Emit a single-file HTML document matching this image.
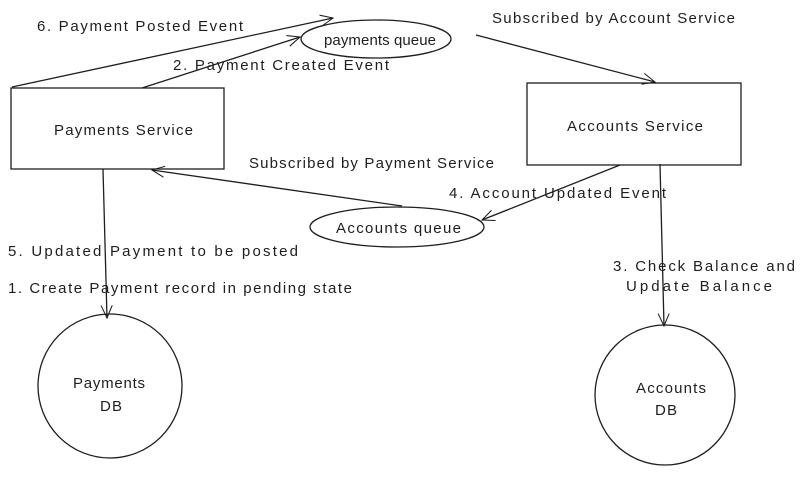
<!DOCTYPE html>
<html><head><meta charset="utf-8"><style>
html,body{margin:0;padding:0;background:#fff;}
svg{display:block;}
text{font-family:"Liberation Sans",sans-serif;font-size:15px;fill:#1e1e1e;}
</style></head><body>
<svg width="800" height="483" viewBox="0 0 800 483" xmlns="http://www.w3.org/2000/svg">
<defs>
<marker id="a" viewBox="0 0 20 20" refX="18" refY="10" markerWidth="14" markerHeight="14" orient="auto" markerUnits="userSpaceOnUse">
<path d="M0 2 L18 10 L0 18" fill="none" stroke="#1e1e1e" stroke-width="1.5"/>
</marker>
</defs>
<g fill="none" stroke="#1e1e1e" stroke-width="1.3">
<rect x="11" y="88" width="213" height="81"/>
<rect x="527" y="83" width="214" height="82"/>
<ellipse cx="376" cy="39" rx="75" ry="19"/>
<ellipse cx="397" cy="227" rx="87" ry="20"/>
<circle cx="110" cy="386" r="72"/>
<circle cx="665" cy="395" r="70"/>
<line x1="12" y1="87" x2="333" y2="18" marker-end="url(#a)"/>
<line x1="142" y1="88" x2="300" y2="37" marker-end="url(#a)"/>
<line x1="476" y1="35" x2="655" y2="82" marker-end="url(#a)"/>
<line x1="620" y1="165" x2="482" y2="220" marker-end="url(#a)"/>
<line x1="402" y1="206" x2="152" y2="170" marker-end="url(#a)"/>
<line x1="103" y1="169" x2="107" y2="318" marker-end="url(#a)"/>
<line x1="660" y1="164" x2="664" y2="326" marker-end="url(#a)"/>
</g>
<text x="54" y="135" textLength="139">Payments Service</text>
<text x="567" y="131" textLength="136">Accounts Service</text>
<text x="324" y="45" textLength="112">payments queue</text>
<text x="336" y="233" textLength="125">Accounts queue</text>
<text x="73" y="388" textLength="72">Payments</text>
<text x="100" y="411" textLength="22">DB</text>
<text x="636" y="393" textLength="70">Accounts</text>
<text x="655" y="415" textLength="22">DB</text>
<text x="37" y="31" textLength="206">6. Payment Posted Event</text>
<text x="173" y="70" textLength="216">2. Payment Created Event</text>
<text x="492" y="23" textLength="243">Subscribed by Account Service</text>
<text x="249" y="168" textLength="245">Subscribed by Payment Service</text>
<text x="449" y="198" textLength="217">4. Account Updated Event</text>
<text x="8" y="256" textLength="290">5. Updated Payment to be posted</text>
<text x="8" y="293" textLength="344">1. Create Payment record in pending state</text>
<text x="613" y="271" textLength="182">3. Check Balance and</text>
<text x="626" y="291" textLength="146">Update Balance</text>
</svg>
</body></html>
